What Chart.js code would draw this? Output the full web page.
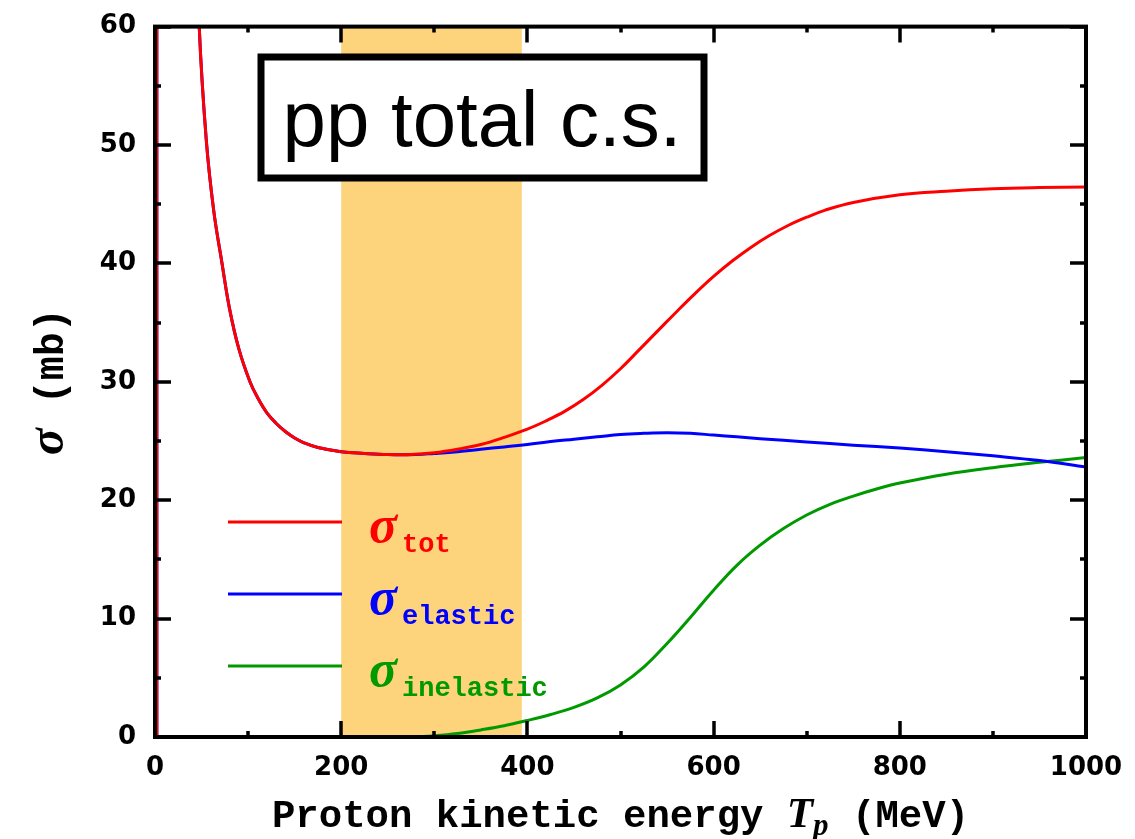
<!DOCTYPE html>
<html>
<head>
<meta charset="utf-8">
<script src="https://cdn.jsdelivr.net/npm/chart.js@4/dist/chart.umd.min.js"></script>
<style>
  html, body { margin: 0; padding: 0; background: #ffffff; }
  #wrap { width: 1135px; height: 839px; }
</style>
</head>
<body>
<div id="wrap"><canvas id="cs" width="1135" height="839"></canvas></div>
<script>
// pp cross sections vs proton kinetic energy (MeV -> mb)
const totalEnergy = [2, 2.5, 30, 40, 47.5, 55, 63, 72, 80, 90, 102, 110, 120, 130, 140, 150, 160, 175, 200, 225, 250, 275, 300, 325, 350, 375, 400, 420, 440, 460, 480, 500, 520, 540, 560, 580, 600, 620, 640, 660, 680, 700, 720, 750, 800, 850, 900, 950, 1000];
const totalSigma  = [0, 3000, 110, 78, 60, 50.5, 44.5, 40, 36.2, 32.8, 30, 28.7, 27.4, 26.5, 25.8, 25.25, 24.85, 24.45, 24.1, 23.95, 23.85, 23.85, 24.0, 24.3, 24.7, 25.3, 26.0, 26.7, 27.5, 28.5, 29.7, 31.1, 32.7, 34.3, 35.9, 37.45, 38.9, 40.2, 41.35, 42.35, 43.2, 43.9, 44.5, 45.15, 45.8, 46.1, 46.3, 46.4, 46.45];

const elasticEnergy = [2, 2.5, 30, 40, 47.5, 55, 63, 72, 80, 90, 102, 110, 120, 130, 140, 150, 160, 175, 200, 225, 250, 280, 300, 325, 350, 375, 400, 425, 450, 475, 500, 525, 550, 575, 600, 625, 650, 700, 750, 800, 850, 900, 950, 1000];
const elasticSigma  = [0, 3000, 110, 78, 60, 50.5, 44.5, 40, 36.2, 32.8, 30, 28.7, 27.4, 26.5, 25.8, 25.25, 24.85, 24.45, 24.1, 23.95, 23.85, 23.85, 23.95, 24.1, 24.3, 24.5, 24.7, 24.95, 25.15, 25.35, 25.55, 25.65, 25.7, 25.65, 25.5, 25.35, 25.2, 24.92, 24.65, 24.4, 24.1, 23.75, 23.35, 22.8];

const inelasticEnergy = [280, 300, 325, 350, 375, 400, 425, 450, 475, 500, 525, 550, 575, 600, 625, 650, 675, 700, 725, 750, 775, 800, 850, 900, 950, 1000];
const inelasticSigma  = [0, 0.1, 0.3, 0.6, 0.95, 1.4, 1.9, 2.5, 3.3, 4.4, 5.9, 7.9, 10.1, 12.4, 14.5, 16.2, 17.6, 18.75, 19.65, 20.35, 20.95, 21.45, 22.2, 22.75, 23.2, 23.6];

const seriesSubscripts = ['tot', 'elastic', 'inelastic'];
const seriesColors = ['#ff0000', '#0000ff', '#009900'];

const xTickValues = [0, 200, 400, 600, 800, 1000];
const yTickValues = [0, 10, 20, 30, 40, 50, 60];

// highlighted energy window (MeV)
const bandRange = [200, 394];

const titleText = 'pp total c.s.';
const xTitleParts = ['Proton kinetic energy ', 'T', 'p', ' (MeV)'];
const yTitleParts = ['σ', ' (mb)'];

const MONO = '"Liberation Mono", "DejaVu Sans Mono", monospace';
const MATH = '"Liberation Serif", "DejaVu Serif", serif';
const TICKFONT = '"DejaVu Sans", sans-serif';

function pairs(xs, ys) { return xs.map((x, i) => ({ x: x, y: ys[i] })); }

const decorations = {
  id: 'decorations',
  beforeDatasetsDraw(chart) {
    const { ctx, chartArea: a, scales: { x } } = chart;
    const x0 = x.getPixelForValue(bandRange[0]);
    const x1 = x.getPixelForValue(bandRange[1]);
    ctx.save();
    ctx.fillStyle = '#fdd37b';
    ctx.fillRect(x0, a.top, x1 - x0, a.bottom - a.top);
    ctx.restore();
  },
  afterDatasetsDraw(chart) {
    const { ctx, chartArea: a, scales: { x, y } } = chart;
    ctx.save();
    ctx.strokeStyle = '#000';
    ctx.lineCap = 'butt';

    // inward ticks on all four sides
    ctx.lineWidth = 3.5;
    for (let v = 0; v <= 1000; v += 100) {
      const px = Math.round(x.getPixelForValue(v));
      const len = v % 200 === 0 ? 16 : 6;
      ctx.beginPath();
      ctx.moveTo(px, a.bottom); ctx.lineTo(px, a.bottom - len);
      ctx.moveTo(px, a.top); ctx.lineTo(px, a.top + len);
      ctx.stroke();
    }
    for (let v = 0; v <= 60; v += 5) {
      const py = Math.round(y.getPixelForValue(v));
      const len = v % 10 === 0 ? 16 : 6;
      ctx.beginPath();
      ctx.moveTo(a.left, py); ctx.lineTo(a.left + len, py);
      ctx.moveTo(a.right, py); ctx.lineTo(a.right - len, py);
      ctx.stroke();
    }
    // frame
    ctx.lineWidth = 4;
    ctx.strokeRect(a.left, a.top, a.right - a.left, a.bottom - a.top);

    // title box
    ctx.fillStyle = '#fff';
    ctx.fillRect(261, 57, 443, 121);
    ctx.lineWidth = 7;
    ctx.strokeRect(261, 57, 443, 121);
    ctx.fillStyle = '#000';
    ctx.font = '78px "Liberation Sans", Arial, sans-serif';
    ctx.textBaseline = 'alphabetic';
    ctx.textAlign = 'center';
    ctx.fillText(titleText, 482, 146);

    // legend
    ctx.textAlign = 'left';
    chart.data.datasets.forEach((ds, i) => {
      const ly = 522 + i * 72;
      ctx.strokeStyle = ds.borderColor;
      ctx.lineWidth = 3;
      ctx.beginPath();
      ctx.moveTo(228, ly); ctx.lineTo(342, ly);
      ctx.stroke();
      ctx.fillStyle = ds.borderColor;
      ctx.font = 'bold italic 52px ' + MATH;
      ctx.fillText('σ', 369, ly + 20);
      ctx.font = 'bold 27px ' + MONO;
      ctx.fillText(seriesSubscripts[i], 402, ly + 30);
    });
    ctx.restore();
  },
  afterDraw(chart) {
    const { ctx, chartArea: a } = chart;
    ctx.save();
    ctx.fillStyle = '#000';
    ctx.textBaseline = 'alphabetic';
    ctx.textAlign = 'left';

    // x axis title
    const fMono = 'bold 39px ' + MONO;
    const fMath = 'bold italic 43px ' + MATH;
    const fSub = 'bold italic 31px ' + MATH;
    ctx.font = fMono; const w0 = ctx.measureText(xTitleParts[0]).width; const w3 = ctx.measureText(xTitleParts[3]).width;
    ctx.font = fMath; const w1 = ctx.measureText(xTitleParts[1]).width;
    ctx.font = fSub; const w2 = ctx.measureText(xTitleParts[2]).width;
    const total = w0 + w1 + w2 + w3;
    let cx = (a.left + a.right) / 2 - total / 2;
    const by = 827;
    ctx.font = fMono; ctx.fillText(xTitleParts[0], cx, by); cx += w0;
    ctx.font = fMath; ctx.fillText(xTitleParts[1], cx, by); cx += w1;
    ctx.font = fSub; ctx.fillText(xTitleParts[2], cx, by + 8); cx += w2;
    ctx.font = fMono; ctx.fillText(xTitleParts[3], cx, by);

    // y axis title (rotated)
    ctx.translate(63, (a.top + a.bottom) / 2);
    ctx.rotate(-Math.PI / 2);
    const fSig = 'bold italic 50px ' + MATH;
    const fMonoY = 'bold 40px ' + MONO;
    ctx.font = fSig; const s0 = ctx.measureText(yTitleParts[0]).width;
    ctx.font = fMonoY; const s1 = ctx.measureText(yTitleParts[1]).width;
    let ty = -(s0 + s1) / 2;
    ctx.font = fSig; ctx.fillText(yTitleParts[0], ty, 0); ty += s0;
    ctx.font = fMonoY; ctx.fillText(yTitleParts[1], ty, 0);
    ctx.restore();
  }
};

new Chart(document.getElementById('cs'), {
  type: 'scatter',
  data: {
    datasets: [
      { label: 'σ tot', data: pairs(totalEnergy, totalSigma), borderColor: seriesColors[0] },
      { label: 'σ elastic', data: pairs(elasticEnergy, elasticSigma), borderColor: seriesColors[1] },
      { label: 'σ inelastic', data: pairs(inelasticEnergy, inelasticSigma), borderColor: seriesColors[2] }
    ].map(d => Object.assign(d, {
      showLine: true, pointRadius: 0, borderWidth: 3, fill: false,
      tension: 0.4, borderJoinStyle: 'round', backgroundColor: d.borderColor
    }))
  },
  options: {
    responsive: false,
    devicePixelRatio: 1,
    animation: false,
    layout: { padding: { top: 21, right: 49, left: 0, bottom: 0 } },
    plugins: { legend: { display: false }, tooltip: { enabled: false } },
    scales: {
      x: {
        type: 'linear', min: 0, max: 1000,
        afterBuildTicks: s => { s.ticks = xTickValues.map(v => ({ value: v })); },
        afterFit: s => { s.height = 102; },
        grid: { display: false }, border: { display: false },
        ticks: { color: '#000', padding: 8, maxRotation: 0, callback: v => String(v),
                 font: { family: TICKFONT, size: 26, weight: 'bold' } }
      },
      y: {
        type: 'linear', min: 0, max: 60,
        afterBuildTicks: s => { s.ticks = yTickValues.map(v => ({ value: v })); },
        afterFit: s => { s.width = 155; },
        grid: { display: false }, border: { display: false },
        ticks: { color: '#000', padding: 11, callback: v => String(v),
                 font: { family: TICKFONT, size: 26, weight: 'bold' } }
      }
    }
  },
  plugins: [decorations]
});
</script>
</body>
</html>
